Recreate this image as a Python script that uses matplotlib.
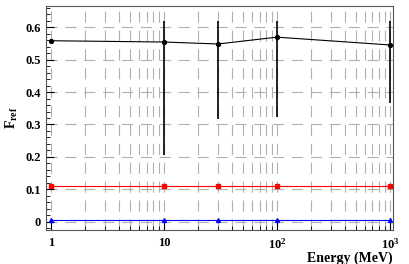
import numpy as np
import matplotlib
matplotlib.use("Agg")
import matplotlib.pyplot as plt
from matplotlib.ticker import LogLocator, FixedLocator, MultipleLocator, NullFormatter

# datos
energia = [1, 10, 30, 100, 1000]
f_negro = [0.558, 0.554, 0.548, 0.569, 0.545]
err_bajo_negro = [0.0, 0.349, 0.230, 0.246, 0.179]
err_alto_negro = [0.0, 0.064, 0.070, 0.049, 0.073]
f_rojo = [0.110, 0.110, 0.110, 0.110, 0.110]
err_rojo = [0.004, 0.004, 0.004, 0.004, 0.004]
f_azul = [0.006, 0.006, 0.006, 0.006, 0.006]
err_azul = [0.001, 0.001, 0.001, 0.001, 0.001]

x_ticks = [1, 10, 100, 1000]
x_labels = ["1", "10", "$\\mathbf{10^{2}}$", "$\\mathbf{10^{3}}$"]

plt.rcParams["font.family"] = ["Liberation Serif", "DejaVu Serif"]
plt.rcParams["font.weight"] = "bold"
plt.rcParams["mathtext.fontset"] = "custom"
plt.rcParams["mathtext.bf"] = "Liberation Serif:bold"
plt.rcParams["mathtext.rm"] = "Liberation Serif:bold"

fig = plt.figure(figsize=(4.09, 2.64), dpi=100)
ax = fig.add_axes([46 / 409, 1 - 230 / 264, (393 - 46) / 409, (230 - 6) / 264])

ax.errorbar(energia, f_negro, yerr=[err_bajo_negro, err_alto_negro], color="black",
            lw=0.8, marker="o", ms=2.8, elinewidth=1.2, capsize=0, zorder=5)
ax.errorbar(energia, f_rojo, yerr=err_rojo, color="red", lw=0.8, marker="s", ms=3.2,
            elinewidth=1.2, capsize=0, zorder=5)
ax.errorbar(energia, f_azul, yerr=err_azul, color="blue", lw=0.8, marker="^", ms=2.8,
            elinewidth=1.0, capsize=0, zorder=5)

ax.set_xscale("log")
ax.set_xlim(0.9, 1065)
ax.set_ylim(-0.025, 0.665)

ax.xaxis.set_major_locator(FixedLocator(x_ticks))
ax.set_xticklabels(x_labels)
ax.xaxis.set_minor_locator(LogLocator(base=10, subs=np.arange(2, 10)))
ax.xaxis.set_minor_formatter(NullFormatter())
ax.yaxis.set_major_locator(MultipleLocator(0.1))
ax.yaxis.set_minor_locator(MultipleLocator(0.02))
ax.set_yticklabels([f"{v:g}" for v in ax.get_yticks()])

ax.grid(True, which="major", axis="y", color="#b0b0b0", ls=(0, (10, 7)), lw=0.8)
ax.grid(True, which="both", axis="x", color="#b0b0b0", ls=(0, (10, 7)), lw=0.8)

ax.tick_params(which="both", direction="in", top=False, right=False, labelsize=9)
ax.tick_params(which="major", length=6)
ax.tick_params(which="minor", length=3)
ax.tick_params(axis="x", pad=5)
for s in ax.spines.values():
    s.set_color("#555555")
    s.set_linewidth(0.8)

ax.set_ylabel("F$_{\\mathbf{ref}}$", fontsize=10, fontweight="bold")
fig.text(393 / 409, 1 - 258 / 264, "Energy (MeV)", fontsize=10, fontweight="bold",
         ha="right", va="center")

fig.savefig("out.png", dpi=100)
